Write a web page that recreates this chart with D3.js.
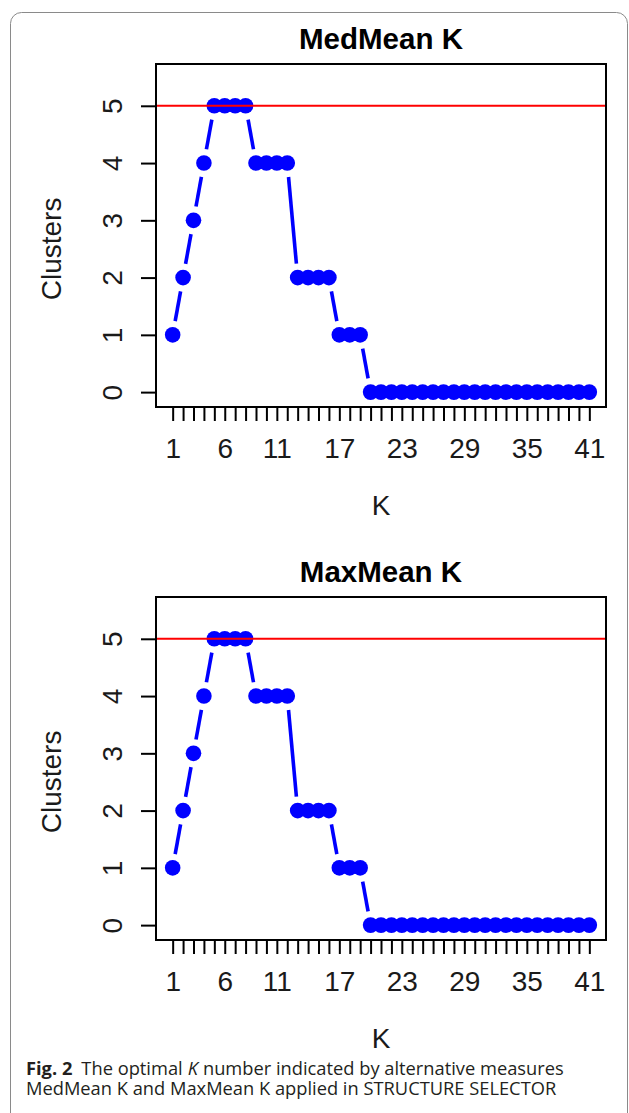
<!DOCTYPE html>
<html>
<head>
<meta charset="utf-8">
<script src="https://cdn.jsdelivr.net/npm/d3@7"></script>
<style>
  html, body { margin: 0; padding: 0; background: #fff; }
  svg { display: block; }
</style>
</head>
<body>
<svg id="chart" width="629" height="1113"></svg>
<script>
// ---- data ----
const kValues = [1,2,3,4,5,6,7,8,9,10,11,12,13,14,15,16,17,18,19,20,21,22,23,24,25,26,27,28,29,30,31,32,33,34,35,36,37,38,39,40,41];
const medMeanClusters = [1,2,3,4,5,5,5,5,4,4,4,4,2,2,2,2,1,1,1,0,0,0,0,0,0,0,0,0,0,0,0,0,0,0,0,0,0,0,0,0,0];
const maxMeanClusters = [1,2,3,4,5,5,5,5,4,4,4,4,2,2,2,2,1,1,1,0,0,0,0,0,0,0,0,0,0,0,0,0,0,0,0,0,0,0,0,0,0];
const xTickLabels = [1,6,11,17,23,29,35,41];
const yTicks = [0,1,2,3,4,5];
const refLine = 5;
const panels = [
  { title: "MedMean K", values: medMeanClusters },
  { title: "MaxMean K", values: maxMeanClusters }
];

// ---- layout ----
const svg = d3.select("#chart");
const box = { left: 156, right: 606, top: 64, bottom: 407 };
const panelOffset = 533;
const font = "'Liberation Sans', Arial, sans-serif";

// frame
svg.append("rect")
  .attr("x", 10.5).attr("y", 12.5)
  .attr("width", 617).attr("height", 1130)
  .attr("rx", 11).attr("ry", 11)
  .attr("fill", "none").attr("stroke", "#8a8a8a").attr("stroke-width", 1);

const x = d3.scaleLinear().domain([-0.6, 42.6]).range([box.left, box.right]);
const y = d3.scaleLinear().domain([-0.26, 5.73]).range([box.bottom, box.top]);

panels.forEach((p, i) => {
  const g = svg.append("g").attr("transform", `translate(0,${i * panelOffset})`);

  // title
  g.append("text")
    .attr("x", (box.left + box.right) / 2).attr("y", 49)
    .attr("text-anchor", "middle")
    .attr("font-family", font).attr("font-weight", "bold").attr("font-size", 29.5)
    .attr("fill", "#000")
    .text(p.title);

  // points & connecting segments (type "b")
  const pts = kValues.map((k, j) => [x(k), y(p.values[j])]);
  const gap = 14;
  const segs = [];
  for (let j = 0; j < pts.length - 1; j++) {
    const [x1, y1] = pts[j], [x2, y2] = pts[j + 1];
    const dx = x2 - x1, dy = y2 - y1, d = Math.hypot(dx, dy);
    if (d > 2 * gap) {
      const ux = dx / d, uy = dy / d;
      segs.push([x1 + ux * gap, y1 + uy * gap, x2 - ux * gap, y2 - uy * gap]);
    }
  }
  g.append("g").selectAll("line").data(segs).join("line")
    .attr("x1", d => d[0]).attr("y1", d => d[1])
    .attr("x2", d => d[2]).attr("y2", d => d[3])
    .attr("stroke", "#0000ff").attr("stroke-width", 3.6);

  g.append("g").selectAll("circle").data(kValues).join("circle")
    .attr("cx", d => x(d))
    .attr("cy", (d, j) => y(p.values[j]))
    .attr("r", 7.8)
    .attr("fill", "#0000ff");

  // reference line
  g.append("line")
    .attr("x1", box.left).attr("x2", box.right)
    .attr("y1", y(refLine)).attr("y2", y(refLine))
    .attr("stroke", "#ff0000").attr("stroke-width", 2);

  // box
  g.append("rect")
    .attr("x", box.left).attr("y", box.top)
    .attr("width", box.right - box.left).attr("height", box.bottom - box.top)
    .attr("fill", "none").attr("stroke", "#000").attr("stroke-width", 2);

  // x axis
  const xAxis = d3.axisBottom(x)
    .tickValues(kValues)
    .tickSize(14)
    .tickFormat(d => xTickLabels.includes(d) ? d : "");
  const xa = g.append("g").attr("transform", `translate(0,${box.bottom})`).call(xAxis);
  xa.select(".domain").attr("d", `M${x(kValues[0])},0H${x(kValues[kValues.length - 1])}`).attr("stroke-width", 2);
  xa.selectAll(".tick line").attr("stroke-width", 2);
  xa.selectAll(".tick text")
    .attr("font-family", font).attr("font-size", 28).attr("fill", "#1a1a1a")
    .attr("dy", null).attr("y", 51);

  // y axis
  const yAxis = d3.axisLeft(y).tickValues(yTicks).tickSize(15).tickFormat(d3.format("d"));
  const ya = g.append("g").attr("transform", `translate(${box.left},0)`).call(yAxis);
  ya.select(".domain").attr("d", `M0,${y(yTicks[0])}V${y(yTicks[yTicks.length - 1])}`).attr("stroke-width", 2);
  ya.selectAll(".tick line").attr("stroke-width", 2);
  ya.selectAll(".tick text")
    .attr("font-family", font).attr("font-size", 28).attr("fill", "#1a1a1a")
    .attr("x", null).attr("dy", null)
    .attr("text-anchor", "middle")
    .attr("transform", "translate(-34,0) rotate(-90)");

  // axis titles
  g.append("text")
    .attr("x", (box.left + box.right) / 2).attr("y", 515)
    .attr("text-anchor", "middle")
    .attr("font-family", font).attr("font-size", 28).attr("fill", "#1a1a1a")
    .text("K");
  g.append("text")
    .attr("transform", `translate(61,${(y(0) + y(5)) / 2}) rotate(-90)`)
    .attr("text-anchor", "middle")
    .attr("font-family", font).attr("font-size", 28).attr("fill", "#1a1a1a")
    .text("Clusters");
});

// caption
const cap = svg.append("g").attr("font-family", "'Open Sans', 'Noto Sans', sans-serif")
  .attr("font-size", 18.3).attr("fill", "#231f20");
const line1Parts = [
  { text: "Fig. 2", weight: "bold", style: "normal", after: 9 },
  { text: "The optimal", weight: "normal", style: "normal", after: 5 },
  { text: "K", weight: "normal", style: "italic", after: 5 },
  { text: "number indicated by alternative measures", weight: "normal", style: "normal", after: 0 }
];
let cx = 26;
line1Parts.forEach(part => {
  const t = cap.append("text").attr("x", cx).attr("y", 1075)
    .attr("font-weight", part.weight).attr("font-style", part.style)
    .text(part.text);
  cx += t.node().getComputedTextLength() + part.after;
});
cap.append("text").attr("x", 26).attr("y", 1094.5)
  .text("MedMean K and MaxMean K applied in STRUCTURE SELECTOR");
</script>
</body>
</html>
